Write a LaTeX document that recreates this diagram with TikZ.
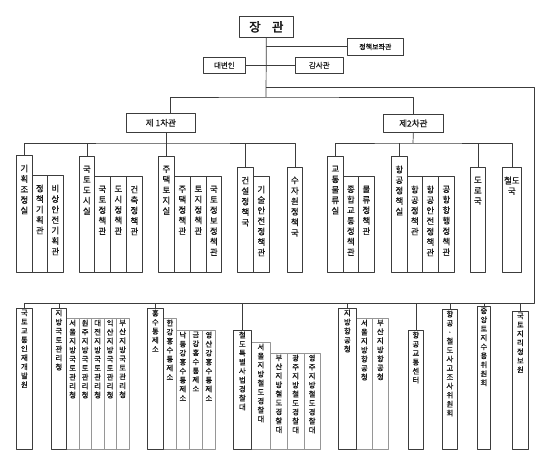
\documentclass[tikz,border=0pt]{standalone}
\usepackage{fontspec}
\setmainfont{Noto Sans CJK KR}[FakeBold=0.6]
\newfontfamily\krbold{Noto Sans CJK KR}[FakeBold=2.5]
\usepackage{tikz}
\usetikzlibrary{shadows}
\definecolor{boxline}{RGB}{60,60,60}
\definecolor{subline}{RGB}{150,150,150}
\definecolor{inktext}{RGB}{25,25,25}

% one character per line
\makeatletter
\newcommand\vstack[1]{\vstack@i#1\@nil}
\def\vstack@i#1#2\@nil{#1\ifx\relax#2\relax\else\\\vstack@i#2\@nil\fi}
\makeatother

% style prefix, name, top-left corner, width, height, text
\newcommand{\orgunit}[6]{%
  \node[#1box,minimum width=#4,minimum height=#5] (#2) at #3 {};
  \node[#1text] at (#2.north) {\vstack{#6}};}

\begin{document}
\begin{tikzpicture}[x=1pt,y=-1pt,line join=round,
  link/.style={draw=boxline,line width=0.7pt},
  topbox/.style={draw=boxline,line width=0.7pt,fill=white,anchor=north west,inner sep=0pt,text=inktext,
    drop shadow={shadow xshift=1pt,shadow yshift=-1pt,fill=boxline,opacity=1}},
  upbox/.style={draw=boxline,line width=0.7pt,fill=white,anchor=north west,inner sep=0pt},
  lowbox/.style={upbox},
  lowsubbox/.style={upbox,draw=subline},
  vtext/.style={anchor=north,align=center,inner sep=0pt,text=inktext},
  uptext/.style={vtext,font=\fontsize{8.4}{10.5}\selectfont,yshift=-9.5pt},
  lowtext/.style={vtext,font=\fontsize{7.4}{9}\selectfont,yshift=-1.5pt},
  lowsubtext/.style={lowtext}]
  \fill[white] (0,0) rectangle (550,462);

  % minister and staff
  \node[topbox,minimum width=54,minimum height=21,font=\krbold\fontsize{12.5}{12}\selectfont] (jangwan) at (239,16) {장\hspace{0.9em}관};
  \node[topbox,minimum width=56,minimum height=17,font=\fontsize{7}{8}\selectfont] (advisor) at (347,38) {정책보좌관};
  \node[topbox,minimum width=42,minimum height=16,font=\fontsize{7.5}{8}\selectfont] (spokes) at (203,57) {대변인};
  \node[topbox,minimum width=48,minimum height=16,font=\fontsize{7.5}{8}\selectfont] (audit) at (295,57) {감사관};
  \node[topbox,minimum width=69,minimum height=19,font=\fontsize{8.5}{9}\selectfont] (vice1) at (126,113) {제 1차관};
  \node[topbox,minimum width=60,minimum height=18,font=\fontsize{8.5}{9}\selectfont] (vice2) at (383,114) {제2차관};

  % first vice minister
  \orgunit{up}{kihoeksub1}{(32,175)}{15}{97}{정책기획관}
  \orgunit{up}{kihoeksub2}{(47,175)}{16}{97}{비상안전기획관}
  \orgunit{up}{kihoek}{(16,155)}{16}{117}{기획조정실}
  \orgunit{up}{guktosub1}{(94,176)}{16}{96}{국토정책관}
  \orgunit{up}{guktosub2}{(110,176)}{16}{96}{도시정책관}
  \orgunit{up}{guktosub3}{(126,176)}{16}{96}{건축정책관}
  \orgunit{up}{gukto}{(79,156)}{15}{116}{국토도시실}
  \orgunit{up}{jutaeksub1}{(174,176)}{16}{96}{주택정책관}
  \orgunit{up}{jutaeksub2}{(190,176)}{16}{96}{토지정책관}
  \orgunit{up}{jutaeksub3}{(206,176)}{15}{96}{국토정보정책관}
  \orgunit{up}{jutaek}{(158,156)}{16}{116}{주택토지실}
  \orgunit{up}{geonseolsub}{(253,176)}{16}{96}{기술안전정책관}
  \orgunit{up}{geonseol}{(237,167)}{16}{105}{건설정책국}
  \orgunit{up}{suja}{(287,167)}{15}{105}{수자원정책국}

  % second vice minister
  \orgunit{up}{gyotongsub1}{(343,176)}{15}{96}{종합교통정책관}
  \orgunit{up}{gyotongsub2}{(358,176)}{16}{96}{물류정책관}
  \orgunit{up}{gyotong}{(327,156)}{16}{116}{교통물류실}
  \orgunit{up}{hanggongsub1}{(407,176)}{15}{96}{항공정책관}
  \orgunit{up}{hanggongsub2}{(422,176)}{16}{96}{항공안전정책관}
  \orgunit{up}{hanggongsub3}{(438,176)}{16}{96}{공항항행정책관}
  \orgunit{up}{hanggong}{(391,156)}{16}{116}{항공정책실}
  \orgunit{up}{doro}{(470,167)}{15}{105}{도로국}
  \node[upbox,minimum width=19,minimum height=105] (cheoldo) at (502,167) {};
  \node[uptext] at (cheoldo.north) {철도\\국};

  % affiliated agencies
  \orgunit{low}{inje}{(16,308)}{16}{141}{국토교통인재개발원}
  \orgunit{lowsub}{jibangsub1}{(66,318)}{12.5}{131}{서울지방국토관리청}
  \orgunit{lowsub}{jibangsub2}{(78.5,318)}{12.5}{131}{원주지방국토관리청}
  \orgunit{lowsub}{jibangsub3}{(91,318)}{12.5}{131}{대전지방국토관리청}
  \orgunit{lowsub}{jibangsub4}{(103.5,318)}{12.5}{131}{익산지방국토관리청}
  \orgunit{lowsub}{jibangsub5}{(116,318)}{12.5}{131}{부산지방국토관리청}
  \orgunit{low}{jibang}{(51,308)}{15}{141}{지방국토관리청}
  \orgunit{lowsub}{hongsusub1}{(163,318)}{13}{131}{한강홍수통제소}
  \orgunit{lowsub}{hongsusub2}{(176,330)}{13}{119}{낙동강홍수통제소}
  \orgunit{lowsub}{hongsusub3}{(189,330)}{13}{119}{금강홍수통제소}
  \orgunit{lowsub}{hongsusub4}{(202,330)}{13}{119}{영산강홍수통제소}
  \orgunit{low}{hongsu}{(147,308)}{16}{141}{홍수통제소}
  \orgunit{lowsub}{cheolgyeongsub1}{(251,342)}{19}{107}{서울지방철도경찰대}
  \orgunit{lowsub}{cheolgyeongsub2}{(270,353)}{17}{96}{부산지방철도경찰대}
  \orgunit{lowsub}{cheolgyeongsub3}{(287,353)}{16.5}{96}{광주지방철도경찰대}
  \orgunit{lowsub}{cheolgyeongsub4}{(303.5,353)}{16.5}{96}{영주지방철도경찰대}
  \orgunit{low}{cheolgyeong}{(233,330)}{18}{119}{철도특별사법경찰대}
  \orgunit{lowsub}{jibanghangsub1}{(356,318)}{16}{131}{서울지방항공청}
  \orgunit{lowsub}{jibanghangsub2}{(372,318)}{16}{131}{부산지방항공청}
  \orgunit{low}{jibanghang}{(338,308)}{18}{141}{지방항공청}
  \orgunit{low}{hanggyo}{(408,330)}{15}{119}{항공교통센터}
  \orgunit{low}{sago}{(442,309)}{15}{140}{항공·철도사고조사위원회}
  \orgunit{low}{jungang}{(477,306)}{13}{143}{중앙토지수용위원회}
  \orgunit{low}{jiri}{(512,311)}{16}{138}{국토지리정보원}

  % connectors
  \coordinate (split) at (266,97);
  \coordinate (frameTR) at (534,87);
  \coordinate (frameBR) at (534,303);
  \coordinate (bus1) at (166,143);
  \coordinate (bus2) at (413,143);
  \draw[link] (jangwan.south) -- (split);
  \draw[link] (jangwan.south |- advisor.west) -- (advisor.west);
  \draw[link] (spokes.east) -- (audit.west);
  \draw[link] ([xshift=9.5pt]vice1.north) |- (split) -| (vice2.north);
  \draw[link] (jangwan.south |- frameTR) -- (frameTR) -- (frameBR) -| (inje.north);
  \foreach \n in {jibang,hongsu,cheolgyeong,jibanghang,hanggyo,sago,jungang,jiri}
    \draw[link] (\n.north) -- (\n.north |- frameBR);
  \draw[link] (vice1.south -| bus1) -- (bus1);
  \draw[link] (kihoek.north) |- (bus1) -| (suja.north);
  \foreach \n in {gukto,jutaek,geonseol}
    \draw[link] (\n.north) -- (\n.north |- bus1);
  \draw[link] (vice2.south) -- (bus2);
  \draw[link] (gyotong.north) |- (bus2) -| (cheoldo.north);
  \foreach \n in {hanggong,doro}
    \draw[link] (\n.north) -- (\n.north |- bus2);
\end{tikzpicture}
\end{document}
